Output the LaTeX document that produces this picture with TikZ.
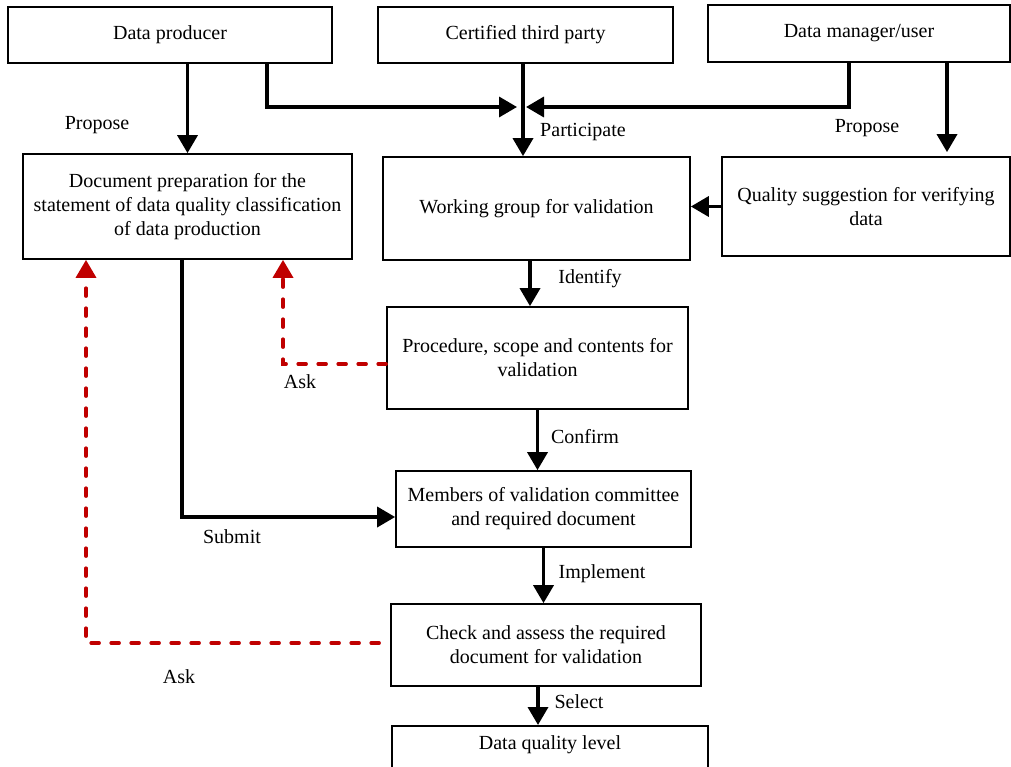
\documentclass[tikz,border=0pt]{standalone}
\usepackage{fontspec}
\setmainfont{Liberation Serif}
\usetikzlibrary{arrows.meta}
\definecolor{askred}{RGB}{192,0,0}
\begin{document}
\begin{tikzpicture}[x=1pt,y=-1pt,
  box/.style={draw,line width=1.7pt,align=center,inner sep=2pt,font=\fontsize{20}{24}\selectfont},
  lbl/.style={inner sep=0pt,font=\fontsize{20}{24}\selectfont},
  flow/.style={line width=3.5pt,-{Triangle[length=18pt,width=20pt]}},
  ask/.style={line width=3.5pt,draw=askred,dash pattern=on 8pt off 12pt,line cap=round,
    -{Triangle[length=18pt,width=20pt,fill=askred,line cap=butt]}}]
\clip (0,0) rectangle (1011,767);
\fill[white] (0,0) rectangle (1011,767);
% boxes
\node[box,minimum width=324pt,minimum height=56pt] (dp) at (170,35) {Data producer};
\node[box,minimum width=295pt,minimum height=56pt] (ctp) at (525.5,35) {Certified third party};
\node[box,minimum width=302pt,minimum height=57pt] (dm) at (859,33.5) {Data manager/user};
\node[box,minimum width=329pt,minimum height=105pt] (doc) at (187.5,206.5)
  {Document preparation for the\\statement of data quality classification\\of data production};
\node[box,minimum width=307pt,minimum height=103pt] (wg) at (536.5,208.5) {Working group for validation};
\node[box,minimum width=288pt,minimum height=99pt] (qs) at (866,206.5) {Quality suggestion for verifying\\data};
\node[box,minimum width=301pt,minimum height=102pt] (proc) at (537.5,358) {Procedure, scope and contents for\\validation};
\node[box,minimum width=295pt,minimum height=76pt] (mem) at (543.5,509) {Members of validation committee\\and required document};
\node[box,minimum width=310pt,minimum height=82pt] (chk) at (546,645) {Check and assess the required\\document for validation};
\node[box,minimum width=316pt,anchor=north,inner xsep=0pt,inner ysep=3pt,text height=21pt,text depth=40pt] (dql) at (550,725) {Data quality level};
% helper coordinates
\coordinate (j) at (523,107);
\coordinate (dpb) at ([xshift=97pt]dp.south);
\coordinate (dmb) at ([xshift=-10pt]dm.south);
\coordinate (dmc) at ([xshift=88pt]dm.south);
\coordinate (wgb) at ([xshift=-6.5pt]wg.south);
\coordinate (chkb) at ([xshift=-8pt]chk.south);
\coordinate (docb) at ([xshift=-5.5pt]doc.south);
\coordinate (memw) at ([yshift=-8pt]mem.west);
\coordinate (procw) at ([yshift=-6pt]proc.west);
\coordinate (chkw) at ([xshift=-11pt,yshift=2pt]chk.west);
\coordinate (docr) at ([xshift=95.5pt]doc.south);
\coordinate (docl) at ([xshift=-101.5pt]doc.south);
% connectors
\draw[flow] (dp.south -| doc.north) -- (doc.north);
\draw[flow] (dpb) |- ([xshift=-6pt]j);
\draw[flow] (dmb) |- ([xshift=3pt]j);
\draw[flow] (ctp.south -| j) -- (wg.north -| j);
\draw[flow,shorten >=4pt] (dmc) -- (dmc |- qs.north);
\draw[flow] (qs.west) -- (wg.east |- qs.west);
\draw[flow] (wgb) -- (wgb |- proc.north);
\draw[flow] (proc.south) -- (proc.south |- mem.north);
\draw[flow] (mem.south) -- (mem.south |- chk.north);
\draw[flow] (chkb) -- (chkb |- dql.north);
\draw[flow] (docb) |- (memw);
\draw[ask] (procw) -| (docr);
\draw[ask] (chkw) -| (docl);
% labels
\node[lbl] (l1) at (97,125) {Propose};
\node[lbl] (l2) at (583,132) {Participate};
\node[lbl] (l3) at (867,128) {Propose};
\node[lbl] (l4) at (590,279) {Identify};
\node[lbl] (l5) at (585,437) {Confirm};
\node[lbl] (l6) at (232,537) {Submit};
\node[lbl] (l7) at (602,574) {Implement};
\node[lbl] (l8) at (579,702) {Select};
\node[lbl] (l9) at (300,382) {Ask};
\node[lbl] (l10) at (179,677) {Ask};
\end{tikzpicture}
\end{document}
